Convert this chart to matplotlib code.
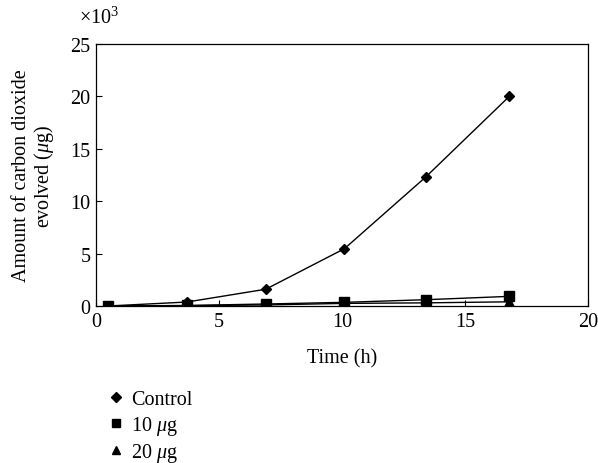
import matplotlib
matplotlib.use("Agg")
import matplotlib.pyplot as plt
from matplotlib.lines import Line2D

# sampling times (h)
time_h = [0.5, 3.7, 6.9, 10.1, 13.4, 16.8]

# CO2 evolved, in units of 10^3 ug
control = [0.0, 0.38, 1.6, 5.47, 12.3, 20.0]
dose_10ug = [0.0, 0.05, 0.19, 0.35, 0.6, 0.92]
dose_20ug = [0.0, 0.03, 0.1, 0.25, 0.3, 0.4]

series_labels = ["Control", r"10 $\mu$g", r"20 $\mu$g"]
series_markers = ["D", "s", "^"]

plt.rcParams["font.family"] = ["Liberation Serif", "DejaVu Serif"]
plt.rcParams["mathtext.fontset"] = "custom"
plt.rcParams["mathtext.it"] = "Liberation Serif:italic"
plt.rcParams["mathtext.rm"] = "Liberation Serif"

FS = 14.5

fig = plt.figure(figsize=(5.98, 4.64), dpi=100)
ax = fig.add_axes([96 / 598, 1 - 307 / 464, 492 / 598, 262 / 464])

series = [control, dose_10ug, dose_20ug]
sizes = [5.5, 7, 6.5]
for vals, mk, ms in zip(series, series_markers, sizes):
    ax.plot(time_h, vals, color="black", lw=1.0, marker=mk, ms=ms,
            markerfacecolor="black", markeredgecolor="black")

ax.set_xlim(0, 20)
ax.set_ylim(0, 25)
ax.set_xticks([0, 5, 10, 15, 20])
ax.set_yticks([0, 5, 10, 15, 20, 25])
ax.tick_params(direction="in", length=4, width=0.8, labelsize=FS,
               top=False, right=False, pad=4)
for sp in ax.spines.values():
    sp.set_linewidth(0.9)

ax.set_xlabel("Time (h)", fontsize=FS, labelpad=13)
ax.set_ylabel("Amount of carbon dioxide\nevolved ($\\mu$g)", fontsize=FS,
              labelpad=10, linespacing=1.1)
fig.text(79 / 598, 1 - 18 / 464, r"$\times$10$^3$", fontsize=FS,
         ha="left", va="center")

handles = [Line2D([], [], color="black", marker=mk, ls="none", ms=ms * 0.85)
           for mk, ms in zip(series_markers, sizes)]
fig.legend(handles, series_labels, loc="upper left",
           bbox_to_anchor=(100 / 598, 1 - 383 / 464), frameon=False,
           fontsize=FS, handlelength=0.8, handletextpad=0.35,
           labelspacing=0.22, borderaxespad=0)

fig.savefig("out.png", dpi=100)
